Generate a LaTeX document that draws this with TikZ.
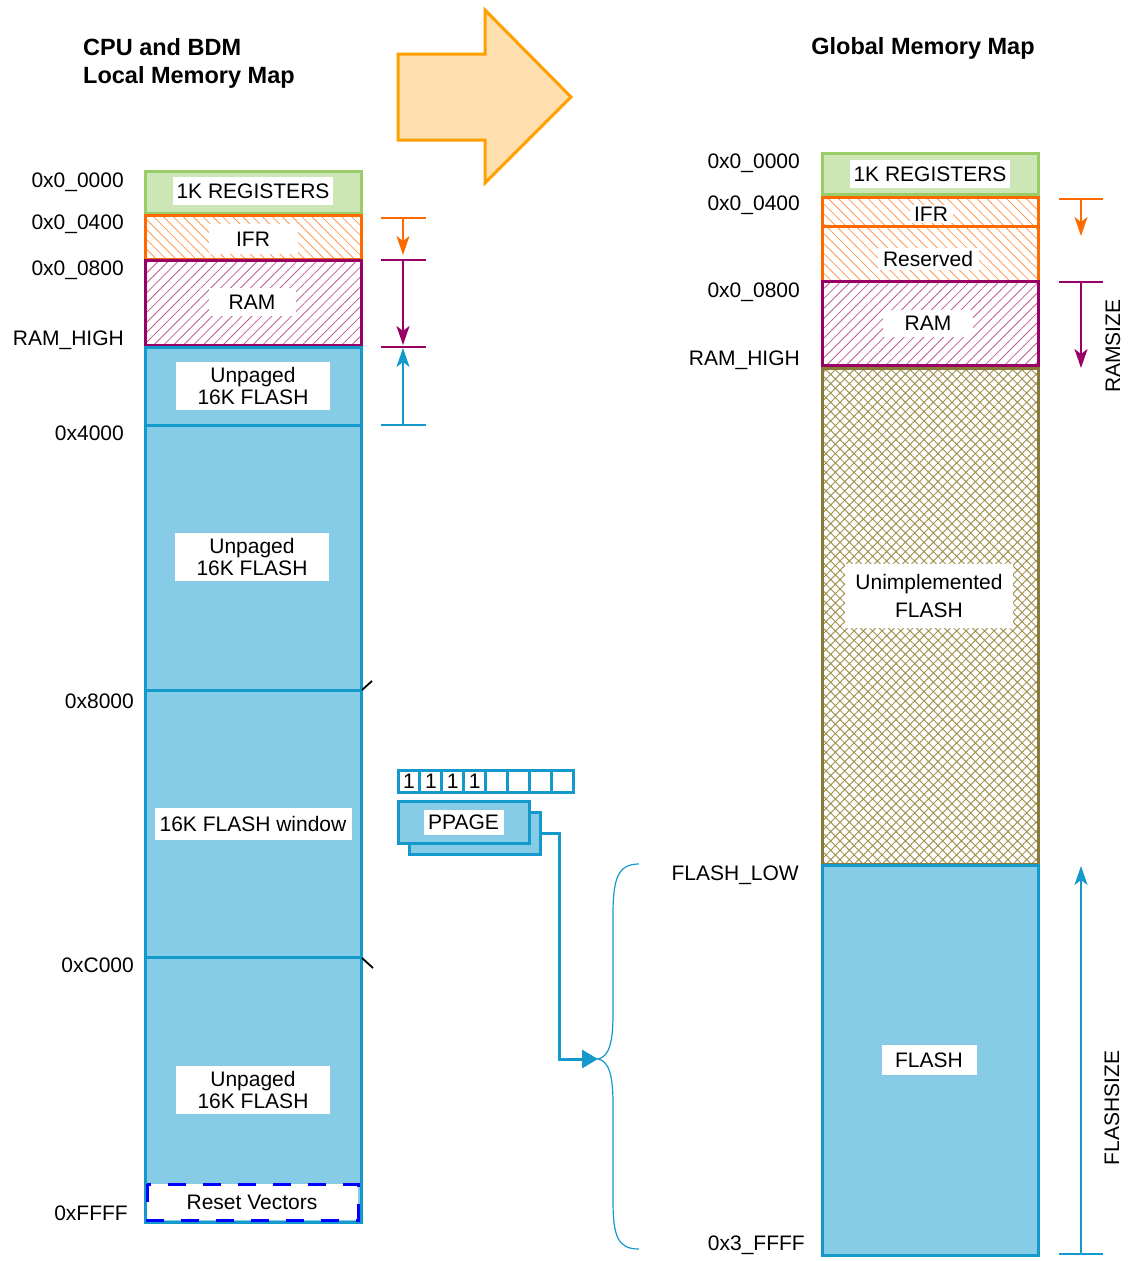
\documentclass[tikz,border=0pt]{standalone}
\usepackage{fontspec}
\setmainfont{Liberation Sans}
\usetikzlibrary{patterns.meta,arrows.meta,calc}
\definecolor{grnfill}{HTML}{CDE6B6}
\definecolor{grnline}{HTML}{9ACD68}
\definecolor{orgline}{HTML}{FF6A00}
\definecolor{orghatch}{HTML}{FF9A55}
\definecolor{purline}{HTML}{990066}
\definecolor{purhatch}{HTML}{BF5C99}
\definecolor{bluefill}{HTML}{87CCE7}
\definecolor{blueline}{HTML}{1499CC}
\definecolor{oliveline}{HTML}{8A7A3A}
\definecolor{olivehatch}{HTML}{A39455}
\definecolor{arrfill}{HTML}{FFDFAE}
\definecolor{arrline}{HTML}{FFA000}
\definecolor{rvblue}{HTML}{0000FF}
\begin{document}
\begin{tikzpicture}[x=1pt,y=-1pt,
  every node/.style={font=\fontsize{21}{22}\selectfont},
  wbox/.style={fill=white, inner sep=0pt, align=center},
  addr/.style={anchor=base east, inner sep=0pt},
  ttl/.style={inner sep=0pt, font=\bfseries\fontsize{23.5}{28}\selectfont},
  regbox/.style={fill=grnfill, draw=grnline, line width=3pt},
  ifrbox/.style={draw=orgline, line width=3pt, pattern={Lines[angle=-45,distance=7pt,line width=0.8pt]}, pattern color=orghatch},
  rambox/.style={draw=purline, line width=3pt, pattern={Lines[angle=45,distance=7pt,line width=0.8pt]}, pattern color=purhatch},
  unibox/.style={draw=oliveline, line width=3pt, pattern={Hatch[angle=45,distance=6.6pt,line width=1pt]}, pattern color=olivehatch},
  flbox/.style={fill=bluefill, draw=blueline, line width=3pt},
  divline/.style={draw=blueline, line width=3pt},
  rvbox/.style={fill=white, draw=rvblue, line width=3pt, dash pattern=on 18pt off 17pt},
  bigarrow/.style={fill=arrfill, draw=arrline, line width=3pt},
  tick/.style={draw=black, line width=1.8pt},
  bitcell/.style={draw=blueline, line width=3pt, minimum width=21.9pt, minimum height=22pt, inner sep=0pt},
  ppbox/.style={fill=bluefill, draw=blueline, line width=3pt, minimum width=131pt, minimum height=42pt, inner sep=0pt},
  conn/.style={draw=blueline, line width=3pt, -{Triangle[length=16pt,width=18pt]}},
  bracestyle/.style={draw=blueline, line width=1.2pt},
  dimline/.style={line width=2pt},
  dimarr/.style={line width=2pt, -{Stealth[length=19pt,width=13pt,inset=5pt]}}
]
\useasboundingbox (0,0) rectangle (1128,1261);

% ---------- titles ----------
\node[ttl, anchor=base west] (t1) at (83,55.4) {CPU and BDM};
\node[ttl, anchor=base west] (t2) at (83,83.4) {Local Memory Map};
\node[ttl, anchor=base] (t3) at (923,54.4) {Global Memory Map};

% ---------- big arrow ----------
\draw[bigarrow] (398,54) -- (485,54) -- (485,10) -- (571,97) -- (485,183) -- (485,140) -- (398,140) -- cycle;

% ---------- left column ----------
\draw[regbox] (145,171) rectangle (361,213);
\draw[ifrbox] (145,215) rectangle (361,259);
\draw[rambox] (145,260) rectangle (361,345);
\draw[flbox] (145,347) rectangle (361,1222);
\draw[divline] (145,425) -- (361,425);
\draw[divline] (145,690) -- (361,690);
\draw[divline] (145,957) -- (361,957);
\draw[rvbox] (147,1184) rectangle (358,1220);
\draw[tick] (362,690) -- (372,681);
\draw[tick] (362,958) -- (373,968);

\node[wbox, minimum width=160pt, minimum height=28pt] (lreg) at (253,191) {1K REGISTERS};
\node[wbox, minimum width=89pt, minimum height=30pt] (lifr) at (253,239) {IFR};
\node[wbox, minimum width=87pt, minimum height=28pt] (lram) at (252,302) {RAM};
\node[wbox, minimum width=154pt, minimum height=48pt] (lun1) at (253,386) {Unpaged\\16K FLASH};
\node[wbox, minimum width=154pt, minimum height=48pt] (lun2) at (252,557) {Unpaged\\16K FLASH};
\node[wbox, minimum width=197pt, minimum height=32pt] (lwin) at (253,824) {16K FLASH window};
\node[wbox, minimum width=154pt, minimum height=48pt] (lun3) at (253,1090) {Unpaged\\16K FLASH};
\node[inner sep=0pt] (lrv) at (252,1202) {Reset Vectors};

\node[addr] (la1) at (124,187.5) {0x0\_0000};
\node[addr] (la2) at (124,229.5) {0x0\_0400};
\node[addr] (la3) at (124,275.5) {0x0\_0800};
\node[addr] (la4) at (124,345.5) {RAM\_HIGH};
\node[addr] (la5) at (124,440.5) {0x4000};
\node[addr] (la6) at (134,708.5) {0x8000};
\node[addr] (la7) at (134,972.5) {0xC000};
\node[addr] (la8) at (128,1220.5) {0xFFFF};

% left dimension marks
\draw[dimline, orgline] (381,218) -- (426,218);
\draw[dimarr, orgline] (403,218) -- (403,255);
\draw[dimline, purline] (381,260) -- (426,260);
\draw[dimarr, purline] (403,260) -- (403,345);
\draw[dimline, purline] (381,347) -- (426,347);
\draw[dimline, blueline] (381,425) -- (426,425);
\draw[dimarr, blueline] (403,425) -- (403,348);

% ---------- PPAGE ----------
\node[bitcell] (b0) at (408.95,781) {1};
\node[bitcell] (b1) at (430.85,781) {1};
\node[bitcell] (b2) at (452.75,781) {1};
\node[bitcell] (b3) at (474.65,781) {1};
\node[bitcell] (b4) at (496.55,781) {};
\node[bitcell] (b5) at (518.45,781) {};
\node[bitcell] (b6) at (540.35,781) {};
\node[bitcell] (b7) at (562.25,781) {};

\node[ppbox] (ppb) at (474.5,833) {};
\node[ppbox] (ppf) at (463.5,822) {};
\node[wbox, minimum width=80pt, minimum height=25pt] (pptxt) at (ppf.center) {PPAGE};

% ---------- brace ----------
\coordinate (brtop) at (639,864);
\coordinate (brtip) at (598,1059);
\coordinate (brbot) at (639,1249);
\draw[bracestyle] (brtop) .. controls (618,864) and (613,878) .. (613,915) -- (613,1015)
  .. controls (613,1045) and (608,1057) .. (brtip)
  .. controls (608,1061) and (613,1073) .. (613,1103) -- (613,1200)
  .. controls (613,1237) and (618,1249) .. (brbot);
\draw[conn] (ppb.east) -- ++(18,0) |- (brtip);

% ---------- right column ----------
\draw[regbox] (822,153) rectangle (1038,194);
\draw[ifrbox] (822,197) rectangle (1038,226);
\draw[ifrbox] (822,226) rectangle (1038,281);
\draw[rambox] (822,281) rectangle (1038,365);
\draw[unibox] (822,368) rectangle (1038,864);
\draw[flbox] (822,865) rectangle (1038,1255);

\node[wbox, minimum width=160pt, minimum height=28pt] (rreg) at (930,174) {1K REGISTERS};
\node[wbox, minimum width=43pt, minimum height=18pt] (rifr) at (931,214) {IFR};
\node[wbox, minimum width=101pt, minimum height=22pt] (rres) at (928,259) {Reserved};
\node[wbox, minimum width=90pt, minimum height=27pt] (rram) at (928,323) {RAM};
\node[wbox, minimum width=168pt, minimum height=64pt, font=\fontsize{21}{28}\selectfont] (runi) at (929,596) {Unimplemented\\FLASH};
\node[wbox, minimum width=95pt, minimum height=30pt] (rfl) at (929,1060) {FLASH};

\node[addr] (ra1) at (800,168.5) {0x0\_0000};
\node[addr] (ra2) at (800,210.5) {0x0\_0400};
\node[addr] (ra3) at (800,297.5) {0x0\_0800};
\node[addr] (ra4) at (800,365.5) {RAM\_HIGH};
\node[addr] (ra5) at (799,880.5) {FLASH\_LOW};
\node[addr] (ra6) at (805,1250.5) {0x3\_FFFF};

% right dimension marks
\draw[dimline, orgline] (1059,199) -- (1103,199);
\draw[dimarr, orgline] (1081,199) -- (1081,236);
\draw[dimline, purline] (1059,282) -- (1103,282);
\draw[dimarr, purline] (1081,282) -- (1081,368);
\draw[dimline, blueline] (1059,1254) -- (1103,1254);
\draw[dimarr, blueline] (1081,1254) -- (1081,866);
\node[rotate=90, inner sep=0pt] (rsz) at (1113,346) {RAMSIZE};
\node[rotate=90, inner sep=0pt] (fsz) at (1112,1108) {FLASHSIZE};
\end{tikzpicture}
\end{document}
